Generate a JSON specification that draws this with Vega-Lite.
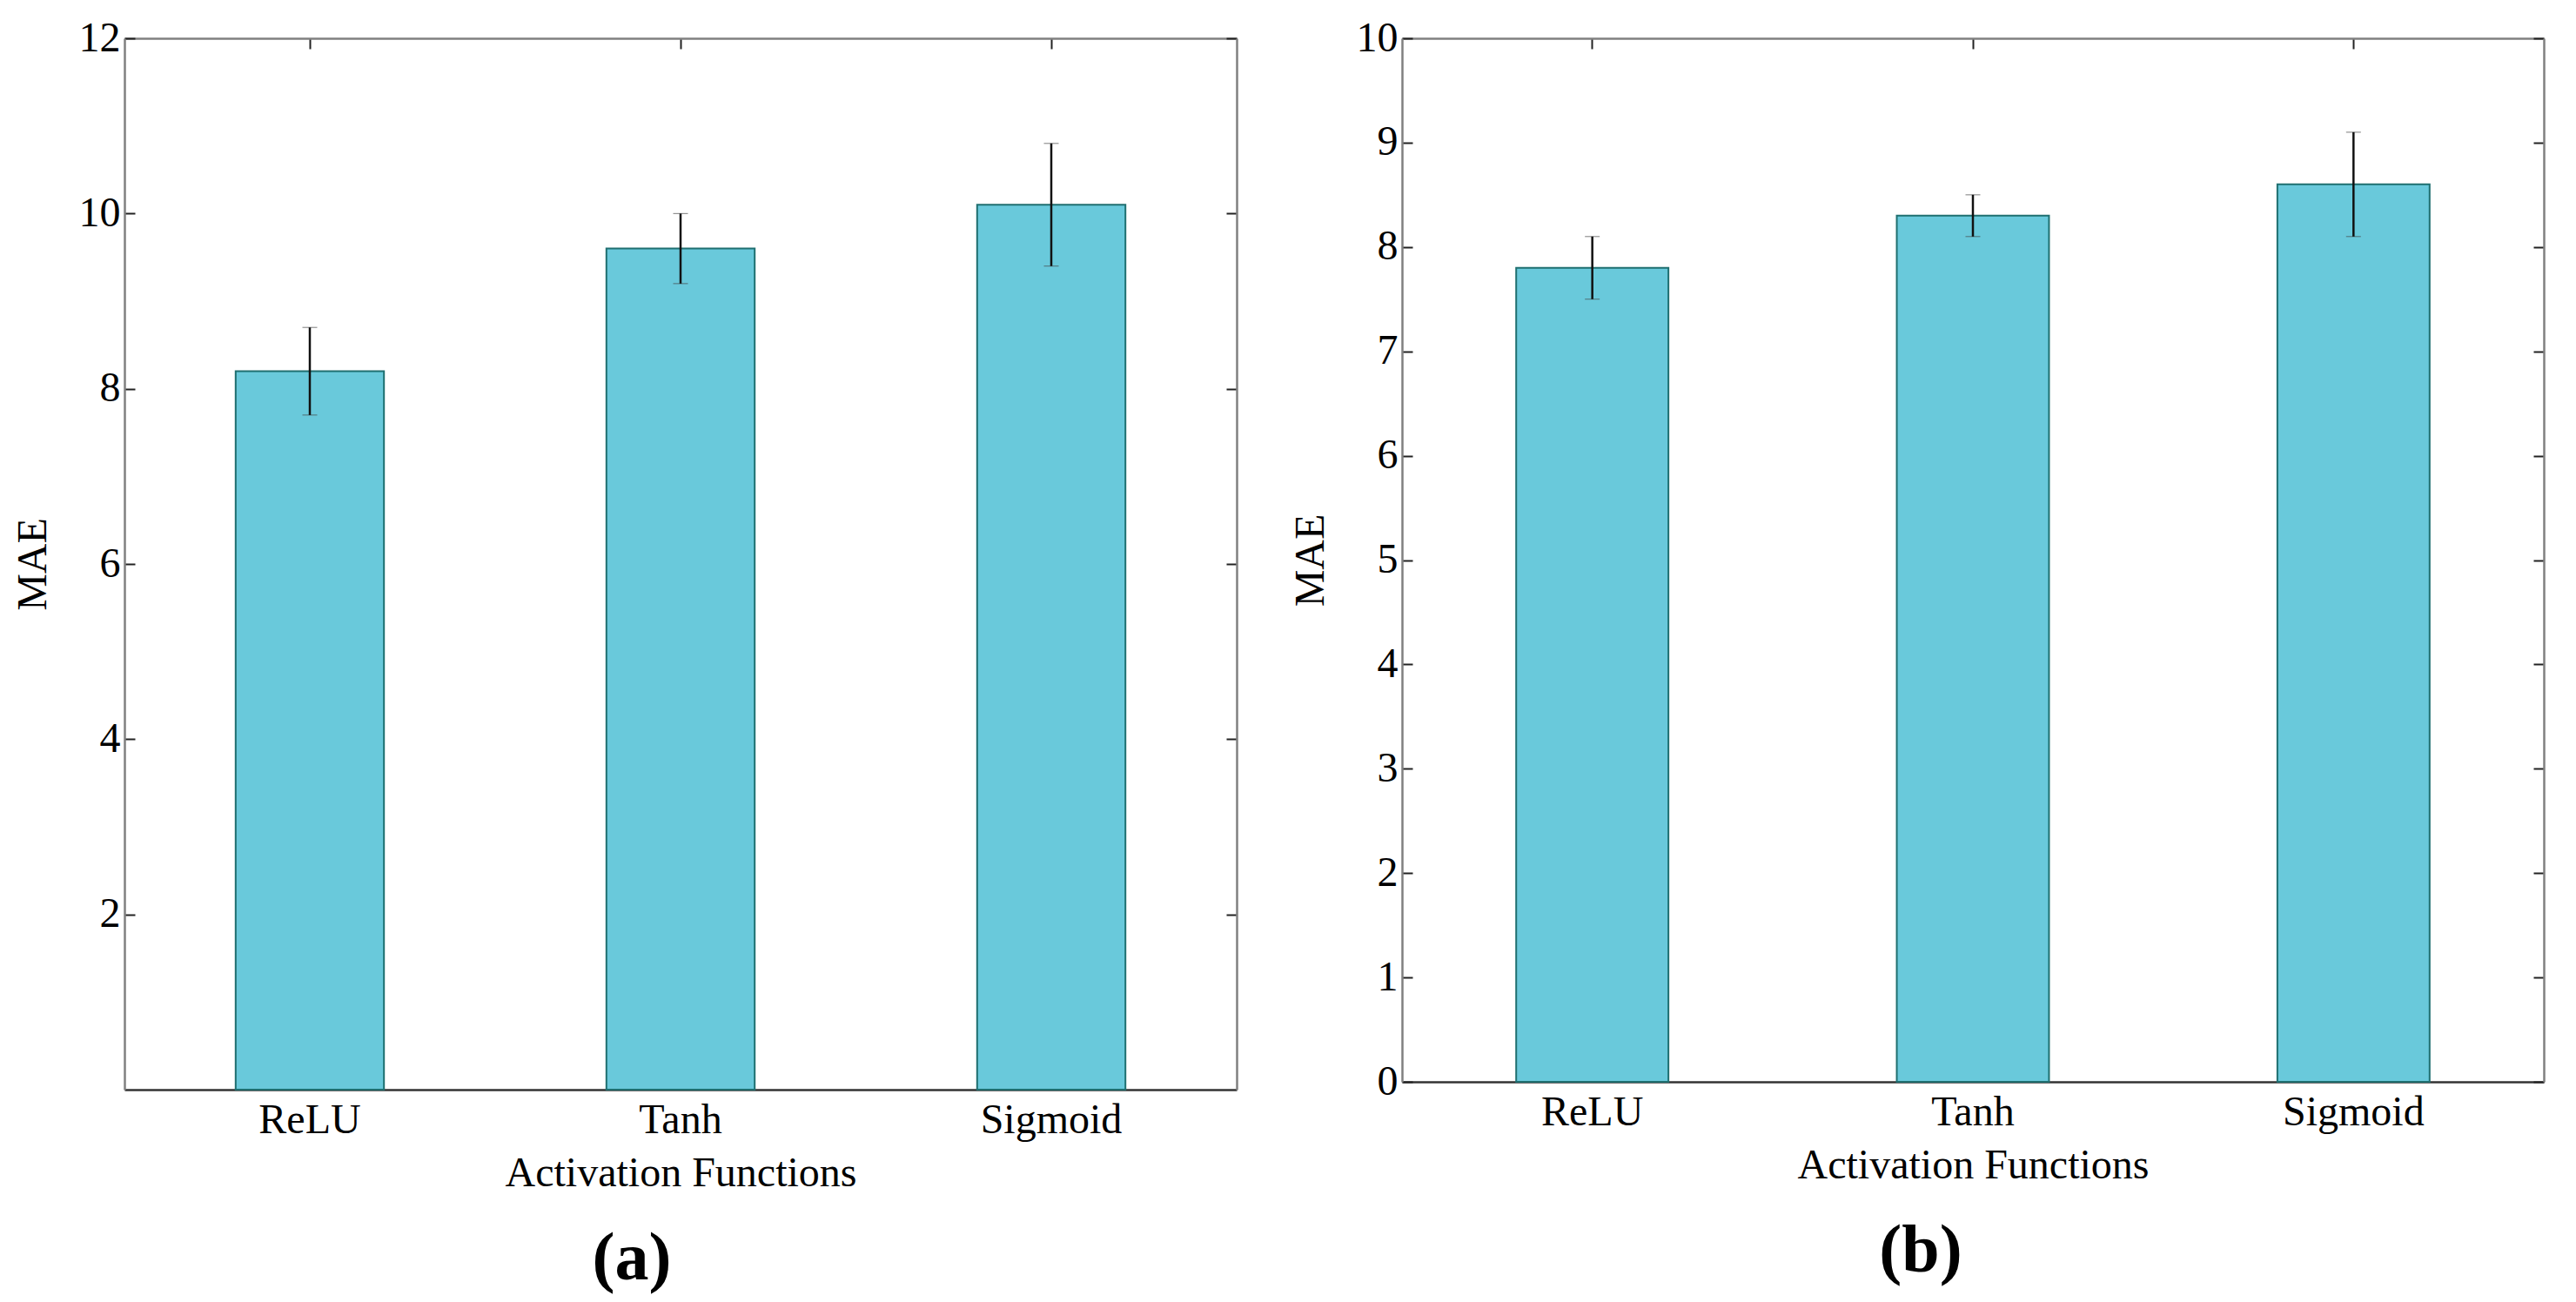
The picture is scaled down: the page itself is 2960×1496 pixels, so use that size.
{
  "$schema": "https://vega.github.io/schema/vega-lite/v6.json",
  "background": "white",
  "padding": {"left": 14, "top": 20, "right": 10, "bottom": 10},
  "config": {
    "font": "Liberation Serif",
    "view": {"stroke": null},
    "axis": {
      "labelFont": "Liberation Serif",
      "titleFont": "Liberation Serif",
      "labelFontSize": 48,
      "titleFontSize": 48,
      "labelColor": "black",
      "titleColor": "black",
      "titleFontWeight": "normal",
      "grid": false,
      "domainColor": "#808080",
      "domainWidth": 2.5,
      "tickColor": "#222222",
      "tickWidth": 2
    },
    "title": {"font": "Liberation Serif", "fontSize": 78, "fontWeight": "bold", "color": "black"}
  },
  "spacing": 60,
  "hconcat": [
    {
      "width": 1278,
      "height": 1208,
      "title": {"text": "(a)", "orient": "bottom", "anchor": "middle", "dx": -56, "offset": 36},
      "data": {
        "values": [
          {"activation": "ReLU", "mae": 8.2, "lo": 7.7, "hi": 8.7},
          {"activation": "Tanh", "mae": 9.6, "lo": 9.2, "hi": 10.0},
          {"activation": "Sigmoid", "mae": 10.1, "lo": 9.4, "hi": 10.8}
        ]
      },
      "layer": [
        {
          "mark": {"type": "bar", "fill": "#69c9db", "stroke": "#1f6f70", "strokeWidth": 2},
          "encoding": {
            "x": {
              "field": "activation", "type": "nominal", "sort": ["ReLU", "Tanh", "Sigmoid"],
              "scale": {"paddingInner": 0.6, "paddingOuter": 0.3},
              "axis": {"title": "Activation Functions", "labelAngle": 0, "ticks": false, "domainColor": "#333333", "labelPadding": 11, "titlePadding": 13}
            },
            "y": {
              "field": "mae", "type": "quantitative",
              "scale": {"domain": [0, 12], "nice": false},
              "axis": {"title": "MAE", "values": [2, 4, 6, 8, 10, 12], "tickSize": -12, "labelPadding": 17, "titlePadding": 28}
            }
          }
        },
        {
          "mark": {
            "type": "errorbar",
            "ticks": {"size": 17, "color": "#444444", "strokeWidth": 3},
            "rule": {"color": "#111111", "strokeWidth": 2.5}
          },
          "encoding": {
            "x": {
              "field": "activation", "type": "nominal", "sort": ["ReLU", "Tanh", "Sigmoid"],
              "scale": {"paddingInner": 0.6, "paddingOuter": 0.3},
              "axis": {"orient": "top", "labels": false, "title": null, "tickSize": -12}
            },
            "y": {
              "field": "lo", "type": "quantitative",
              "scale": {"domain": [0, 12], "nice": false},
              "axis": {"orient": "right", "labels": false, "title": null, "values": [2, 4, 6, 8, 10, 12], "tickSize": -12}
            },
            "y2": {"field": "hi"}
          }
        }
      ],
      "resolve": {"axis": {"x": "independent", "y": "independent"}}
    },
    {
      "width": 1312,
      "height": 1199,
      "title": {"text": "(b)", "orient": "bottom", "anchor": "middle", "dx": -60, "offset": 36},
      "data": {
        "values": [
          {"activation": "ReLU", "mae": 7.8, "lo": 7.5, "hi": 8.1},
          {"activation": "Tanh", "mae": 8.3, "lo": 8.1, "hi": 8.5},
          {"activation": "Sigmoid", "mae": 8.6, "lo": 8.1, "hi": 9.1}
        ]
      },
      "layer": [
        {
          "mark": {"type": "bar", "fill": "#69c9db", "stroke": "#1f6f70", "strokeWidth": 2},
          "encoding": {
            "x": {
              "field": "activation", "type": "nominal", "sort": ["ReLU", "Tanh", "Sigmoid"],
              "scale": {"paddingInner": 0.6, "paddingOuter": 0.3},
              "axis": {"title": "Activation Functions", "labelAngle": 0, "ticks": false, "domainColor": "#333333", "labelPadding": 11, "titlePadding": 13}
            },
            "y": {
              "field": "mae", "type": "quantitative",
              "scale": {"domain": [0, 10], "nice": false},
              "axis": {"title": "MAE", "values": [0, 1, 2, 3, 4, 5, 6, 7, 8, 9, 10], "tickSize": -12, "labelPadding": 17, "titlePadding": 28}
            }
          }
        },
        {
          "mark": {
            "type": "errorbar",
            "ticks": {"size": 17, "color": "#444444", "strokeWidth": 3},
            "rule": {"color": "#111111", "strokeWidth": 2.5}
          },
          "encoding": {
            "x": {
              "field": "activation", "type": "nominal", "sort": ["ReLU", "Tanh", "Sigmoid"],
              "scale": {"paddingInner": 0.6, "paddingOuter": 0.3},
              "axis": {"orient": "top", "labels": false, "title": null, "tickSize": -12}
            },
            "y": {
              "field": "lo", "type": "quantitative",
              "scale": {"domain": [0, 10], "nice": false},
              "axis": {"orient": "right", "labels": false, "title": null, "values": [0, 1, 2, 3, 4, 5, 6, 7, 8, 9, 10], "tickSize": -12}
            },
            "y2": {"field": "hi"}
          }
        }
      ],
      "resolve": {"axis": {"x": "independent", "y": "independent"}}
    }
  ]
}
